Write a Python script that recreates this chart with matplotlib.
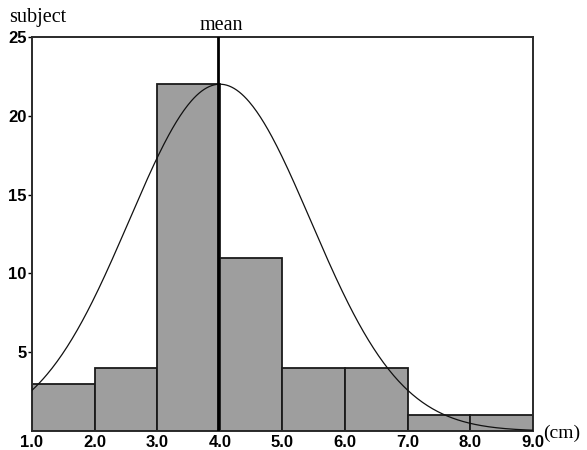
import numpy as np
import matplotlib
matplotlib.use("Agg")
import matplotlib.pyplot as plt

# ---- data ----
bin_edges = [1.0, 2.0, 3.0, 4.0, 5.0, 6.0, 7.0, 8.0, 9.0]
counts = [3, 4, 22, 11, 4, 4, 1, 1]
x_tick_labels = ["1.0", "2.0", "3.0", "4.0", "5.0", "6.0", "7.0", "8.0", "9.0"]
y_ticks = [5, 10, 15, 20, 25]
mean_value = 3.97
curve_mean = 4.0
curve_sd = 1.45
curve_peak = 22.0

fig = plt.figure(figsize=(5.87, 4.5), dpi=100)
ax = fig.add_axes([0.0545, 0.042, 0.8535, 0.876])

lefts = bin_edges[:-1]
widths = np.diff(bin_edges)
ax.bar(lefts, counts, width=widths, align="edge", color="#9e9e9e",
       edgecolor="#1a1a1a", linewidth=1.3, zorder=2)

xs = np.linspace(bin_edges[0], bin_edges[-1], 400)
ys = curve_peak * np.exp(-0.5 * ((xs - curve_mean) / curve_sd) ** 2)
ax.plot(xs, ys, color="#111111", linewidth=0.9, zorder=3)

ax.axvline(mean_value, color="black", linewidth=2.0, zorder=4)

ax.set_xlim(bin_edges[0], bin_edges[-1])
ax.set_ylim(0, 25)
ax.set_xticks(bin_edges)
ax.set_xticklabels(x_tick_labels, fontsize=12, fontweight="bold",
                   family="Liberation Sans")
ax.set_yticks(y_ticks)
ax.set_yticklabels([str(v) for v in y_ticks], fontsize=12, fontweight="bold",
                   family="Liberation Sans")
ax.tick_params(axis="x", length=0, pad=3)
ax.tick_params(axis="y", length=3, width=1, direction="out", pad=1)

for sp in ax.spines.values():
    sp.set_color("#2a2a2a")
    sp.set_linewidth(1.4)

fig.text(0.015, 0.962, "subject", fontsize=14.5, family="Liberation Serif",
         ha="left", va="center")
ax.text(mean_value + 0.05, 25.15, "mean", fontsize=14.5, family="Liberation Serif",
        ha="center", va="bottom", transform=ax.transData)
fig.text(0.926, 0.036, "(cm)", fontsize=14, family="Liberation Serif",
         ha="left", va="center")

fig.savefig("out.png", dpi=100)
